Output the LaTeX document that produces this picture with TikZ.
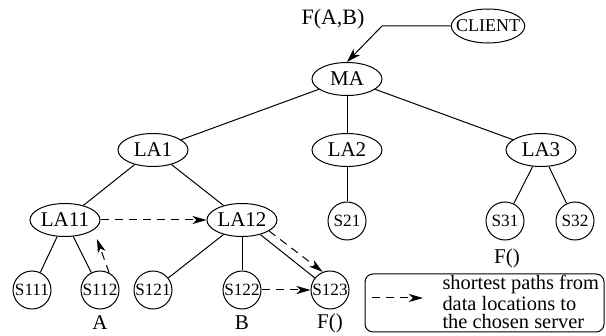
\documentclass[tikz,border=0pt]{standalone}
\usepackage{fontspec}
\setmainfont{Liberation Serif}
\usetikzlibrary{shapes.geometric,arrows.meta}

\begin{document}
\begin{tikzpicture}[x=0.5pt,y=-0.5pt,line width=0.5pt,
		agent/.style={ellipse,draw,minimum width=35pt,minimum height=16.5pt,inner sep=0pt,font=\fontsize{10.5}{12}\selectfont},
		server/.style={circle,draw,minimum size=19pt,inner sep=0pt,font=\fontsize{8.6}{10}\selectfont},
		lbl/.style={font=\fontsize{10.5}{12}\selectfont,inner sep=0pt},
		shortest/.style={dash pattern=on 4pt off 3pt,-{Stealth[length=7pt,width=4pt,inset=2pt]}}]
				\useasboundingbox (0,0) rectangle (606,336);
				% agents
				\node[agent,minimum height=17pt,inner xsep=-3pt,font=\fontsize{9}{10}\selectfont] (client) at (488,26) {CLIENT};
				\node[agent] (ma) at (347,79) {MA};
				\node[agent] (la1) at (153,150) {LA1};
				\node[agent] (la2) at (347,150) {LA2};
				\node[agent] (la3) at (541,150) {LA3};
				\node[agent] (la11) at (65,220) {LA11};
				\node[agent] (la12) at (242,220) {LA12};
				% servers
				\node[server] (s21) at (347,221) {S21};
				\node[server] (s31) at (505,221) {S31};
				\node[server] (s32) at (575,221) {S32};
				\node[server] (s111) at (32,290) {S111};
				\node[server] (s112) at (100,290) {S112};
				\node[server] (s121) at (153,290) {S121};
				\node[server] (s122) at (242,290) {S122};
				\node[server] (s123) at (330,290) {S123};
				% labels
				\node[lbl,font=\fontsize{11}{12}\selectfont] (fab) at (333,19) {F(A,B)};
				\node[lbl] (la) at (100,323) {A};
				\node[lbl] (lb) at (242,323) {B};
				\node[lbl] (lf1) at (330,323) {F()};
				\node[lbl] (lf2) at (507,258) {F()};
				% tree
				\draw (ma)--(la1);
				\draw (ma)--(la2);
				\draw (ma)--(la3);
				\draw (la1)--(la11);
				\draw (la1)--(la12);
				\draw (la2)--(s21);
				\draw (la3)--(s31);
				\draw (la3)--(s32);
				\draw (la11)--(s111);
				\draw (la11)--(s112);
				\draw (la12)--(s121);
				\draw (la12)--(s122);
				\draw (la12)--(s123);
				% request
				\coordinate (bend) at (382,26);
				\draw[-{Stealth[length=7pt,width=4.5pt,inset=2pt]}] (client.west)--(bend)--(ma.north);
				% shortest paths
				\coordinate (tipa) at (97,239);
				\draw[shortest] (s112.62)--(tipa);
				\draw[shortest] (la11.east)--(la12.west);
				\draw[shortest] (la12.-22)--(s123.112);
				\draw[shortest] (s122.east)--(s123.west);
				% legend
				\node[draw,rounded corners=4pt,minimum width=119.5pt,minimum height=29pt,inner sep=0pt] (legend) at (484.5,303) {};
				\node[lbl,anchor=west,align=left,font=\fontsize{10.2}{9.2}\selectfont] (legtext) at (442,302) {shortest paths from\\data locations to\\the chosen server};
				\coordinate (legs) at (372,298);
				\coordinate (lege) at (423,298);
				\draw[shortest] (legs)--(lege);
				\end{tikzpicture}
\end{document}
